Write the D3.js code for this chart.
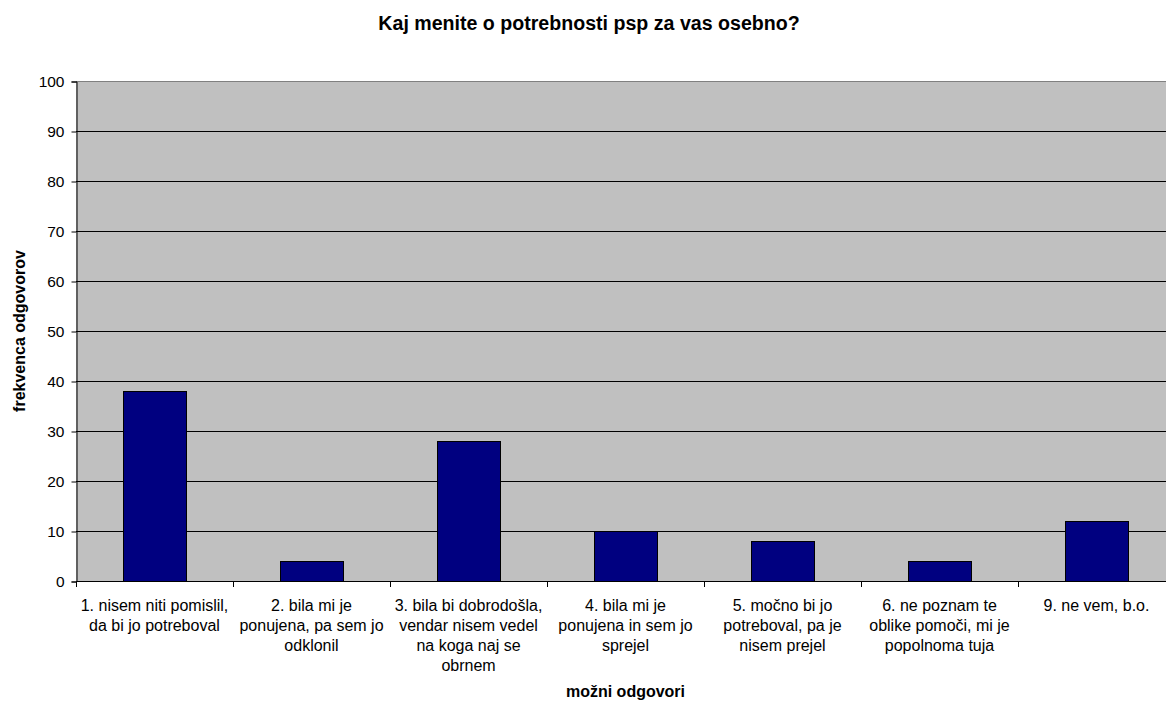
<!DOCTYPE html>
<html><head><meta charset="utf-8">
<script src="https://cdn.jsdelivr.net/npm/d3@7"></script>
<style>
html,body{margin:0;padding:0;background:#fff;overflow:hidden}
text{font-family:"Liberation Sans",Arial,sans-serif;fill:#000}
</style></head>
<body>
<svg id="chart" width="1166" height="702"></svg>
<script>
const title = "Kaj menite o potrebnosti psp za vas osebno?";
const xTitle = "možni odgovori";
const yTitle = "frekvenca odgovorov";
const categories = [
  "1. nisem niti pomislil,\nda bi jo potreboval",
  "2. bila mi je\nponujena, pa sem jo\nodklonil",
  "3. bila bi dobrodošla,\nvendar nisem vedel\nna koga naj se\nobrnem",
  "4. bila mi je\nponujena in sem jo\nsprejel",
  "5. močno bi jo\npotreboval, pa je\nnisem prejel",
  "6. ne poznam te\noblike pomoči, mi je\npopolnoma tuja",
  "9. ne vem, b.o."
];
const values = [38, 4, 28, 10, 8, 4, 12];
const yTicks = [0, 10, 20, 30, 40, 50, 60, 70, 80, 90, 100];

const svg = d3.select("#chart");
const m = {left: 76, top: 81, right: 1175, bottom: 581};

const x = d3.scaleBand().domain(categories).range([m.left, m.right])
  .paddingInner(0.6).paddingOuter(0.3);
const xb = d3.scaleBand().domain(categories).range([m.left, m.right]).padding(0);
const y = d3.scaleLinear().domain([0, 100]).range([m.bottom, m.top]);

// plot background
svg.append("rect").attr("x", m.left).attr("y", m.top)
  .attr("width", m.right - m.left).attr("height", m.bottom - m.top)
  .attr("fill", "#c0c0c0");

// gridlines
svg.append("g").selectAll("line").data(yTicks.filter(d => d > 0 && d < 100)).join("line")
  .attr("x1", m.left).attr("x2", m.right)
  .attr("y1", d => Math.round(y(d)) + 0.5).attr("y2", d => Math.round(y(d)) + 0.5)
  .attr("stroke", "#000").attr("stroke-width", 1);
// top border
svg.append("line").attr("x1", m.left).attr("x2", m.right)
  .attr("y1", m.top + 0.5).attr("y2", m.top + 0.5)
  .attr("stroke", "#808080").attr("stroke-width", 1);

// bars
svg.append("g").selectAll("rect").data(values).join("rect")
  .attr("x", (d, i) => Math.round(x(categories[i])) + 0.5)
  .attr("y", d => Math.round(y(d)) + 0.5)
  .attr("width", Math.round(x.bandwidth()))
  .attr("height", d => Math.round(y(0)) - Math.round(y(d)))
  .attr("fill", "#000080").attr("stroke", "#000").attr("stroke-width", 1);

// y axis
const yAxis = d3.axisLeft(y).tickValues(yTicks).tickSize(5).tickPadding(7);
const gy = svg.append("g").attr("transform", `translate(${m.left + 0.5},0.5)`).call(yAxis);
gy.select(".domain").attr("stroke", "#000");
gy.selectAll(".tick line").attr("stroke", "#000");
gy.selectAll(".tick text").attr("font-size", 15.5).attr("fill", "#000")
  .style("font-family", '"Liberation Sans",Arial,sans-serif');

// x axis line and ticks
const bounds = categories.map(c => xb(c)).concat([m.right]);
svg.append("line").attr("x1", m.left).attr("x2", m.right)
  .attr("y1", m.bottom + 0.5).attr("y2", m.bottom + 0.5).attr("stroke", "#000");
svg.append("g").selectAll("line").data(bounds).join("line")
  .attr("x1", d => Math.round(d) + 0.5).attr("x2", d => Math.round(d) + 0.5)
  .attr("y1", m.bottom).attr("y2", m.bottom + 6).attr("stroke", "#000");

// x labels
const lab = svg.append("g").selectAll("text").data(categories).join("text")
  .attr("x", c => xb(c) + xb.bandwidth() / 2)
  .attr("y", 611).attr("text-anchor", "middle").attr("font-size", 16);
lab.each(function(c) {
  const t = d3.select(this);
  c.split("\n").forEach((ln, i) => {
    t.append("tspan").attr("x", xb(c) + xb.bandwidth() / 2)
      .attr("dy", i === 0 ? 0 : 20).text(ln);
  });
});

// titles
svg.append("text").attr("x", 589).attr("y", 30).attr("text-anchor", "middle")
  .attr("font-size", 19.6).attr("font-weight", "bold").text(title);
svg.append("text").attr("x", (m.left + m.right) / 2).attr("y", 697).attr("text-anchor", "middle")
  .attr("font-size", 16).attr("font-weight", "bold").text(xTitle);
svg.append("text").attr("transform", `translate(25,${(m.top + m.bottom) / 2}) rotate(-90)`)
  .attr("text-anchor", "middle").attr("font-size", 16).attr("font-weight", "bold").text(yTitle);
</script>
</body></html>
